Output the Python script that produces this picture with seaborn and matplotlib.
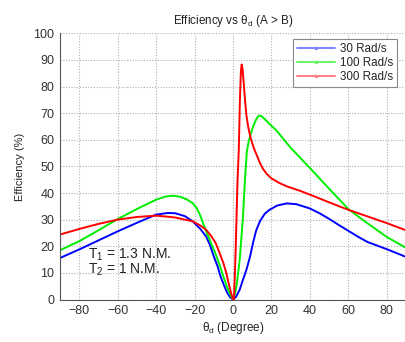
import numpy as np
import pandas as pd
import matplotlib
matplotlib.use("Agg")
import matplotlib.pyplot as plt
from matplotlib.lines import Line2D
import seaborn as sns

# ---- data ----
labels = ["30 Rad/s", "100 Rad/s", "300 Rad/s"]

theta_30 = [-90, -80, -70, -60, -50, -40, -34, -30, -25, -21, -17, -14, -12, -10, -8, -6.5,
            -4.5, -3, -1.5, 0, 1.5, 3.5, 5, 7, 9, 10.4, 12, 14, 16.5, 19, 23, 28, 33, 40,
            45, 50, 55, 60, 65, 70, 80, 90]
eff_30 = [15.6, 18.8, 22.2, 25.6, 28.8, 31.9, 32.5, 32.4, 31.3, 29.4, 26.5, 23.7, 20.5, 16.2,
          12.4, 8.7, 5.0, 2.5, 0.8, 0.0, 0.9, 3.7, 7.0, 11.2, 16.5, 21.2, 25.8, 29.4, 32.2,
          33.7, 35.3, 36.1, 35.8, 34.2, 32.4, 30.3, 28.0, 25.8, 23.6, 21.6, 18.9, 16.0]

theta_100 = [-90, -80, -70, -60, -50, -40, -35, -31, -27, -24, -21, -19, -17, -15, -13, -11,
             -9, -7, -5, -3, -1, 0, 1, 2, 3.5, 5.2, 6.3, 7.2, 8.2, 9.4, 10.6, 11.8, 12.8,
             13.6, 15, 17, 19.5, 22.6, 30, 40, 50, 60, 70, 80, 90]
eff_100 = [18.5, 21.9, 26.0, 30.2, 34.0, 37.5, 38.7, 39.0, 38.5, 37.6, 36.2, 34.5, 31.5, 27.5,
           24.0, 20.5, 17.0, 13.0, 8.7, 4.5, 1.2, 0.0, 2.0, 6.0, 15.0, 31.2, 46.0, 55.5, 59.5,
           62.6, 65.2, 67.3, 68.5, 69.1, 68.8, 67.4, 65.6, 63.5, 57.0, 49.4, 41.6, 34.0,
           28.6, 23.5, 19.4]

theta_300 = [-90, -80, -70, -60, -50, -40, -34, -30, -25, -21, -17, -14, -11.5, -9, -7, -5,
             -3.5, -2.3, -1, 0, 0.5, 1.4, 2.3, 3, 3.6, 4.1, 4.5, 5.0, 5.6, 6.3, 7, 8.0, 9.0,
             10.2, 11.3, 12.5, 14, 15.5, 17.4, 20, 24, 28, 35, 40, 50, 60, 70, 80, 90]
eff_300 = [24.4, 26.5, 28.4, 30.0, 31.0, 31.5, 31.1, 30.8, 30.0, 29.4, 27.8, 26.2, 24.0, 21.2,
           17.5, 13.7, 10.0, 6.2, 2.5, 0.0, 0.0, 18.7, 43.7, 56.0, 75.0, 85.5, 88.3, 86.5,
           81.0, 74.5, 69.0, 64.5, 61.2, 58.3, 56.0, 54.0, 51.3, 49.2, 47.3, 45.5, 43.8,
           42.5, 40.8, 39.4, 36.5, 33.7, 31.2, 28.7, 26.0]

x_ticks = [-80, -60, -40, -20, 0, 20, 40, 60, 80]
y_ticks = [0, 10, 20, 30, 40, 50, 60, 70, 80, 90, 100]

colors = ["#0000ff", "#00ee00", "#ff0000"]
legend_colors = ["#8080ff", "#66f566", "#ff8080"]

df = pd.concat([
    pd.DataFrame({"theta": theta_30, "eff": eff_30, "speed": labels[0]}),
    pd.DataFrame({"theta": theta_100, "eff": eff_100, "speed": labels[1]}),
    pd.DataFrame({"theta": theta_300, "eff": eff_300, "speed": labels[2]}),
], ignore_index=True)

sns.set_style("white")
plt.rcParams["font.family"] = ["Liberation Sans", "DejaVu Sans"]
plt.rcParams["mathtext.fontset"] = "custom"
plt.rcParams["mathtext.rm"] = "Liberation Sans"
plt.rcParams["mathtext.it"] = "Liberation Sans"

fig = plt.figure(figsize=(4.06, 3.42), dpi=100)
ax = fig.add_axes([60 / 406, 1 - 299.5 / 342, 346 / 406, (299.5 - 33.3) / 342])

sns.lineplot(data=df, x="theta", y="eff", hue="speed", palette=colors,
             hue_order=labels, linewidth=1.4, legend=False, ax=ax, sort=False,
             estimator=None)

ax.set_xlim(-90, 90)
ax.set_ylim(0, 100)
ax.set_xticks(x_ticks)
ax.set_yticks(y_ticks)
ax.tick_params(axis="both", direction="in", length=3, labelsize=9,
               colors="#333333", labelcolor="#333333", pad=4)
ax.set_axisbelow(True)
ax.grid(True, which="major", linestyle=(0, (1, 1.5)), color="#b0b0b0", linewidth=0.8)
for s in ["top", "right"]:
    ax.spines[s].set_visible(False)
for s in ["left", "bottom"]:
    ax.spines[s].set_color("#555555")
    ax.spines[s].set_linewidth(0.8)

ax.set_title(r"Efficiency vs $\theta_d$ (A > B)", fontsize=8.4, color="#222222", pad=7)
ax.set_xlabel(r"$\theta_d$ (Degree)", fontsize=8.5, color="#222222", labelpad=2)
ax.set_ylabel("Efficiency (%)", fontsize=8, color="#222222", labelpad=6)

ax.text(-75.5, 15.5, r"T$_1$ = 1.3 N.M.", fontsize=10, color="#222222")
ax.text(-75.5, 9.8, r"T$_2$ = 1 N.M.", fontsize=10, color="#222222")

handles = [Line2D([0], [0], color=c, lw=1.4, marker=".", markersize=3) for c in legend_colors]
leg = ax.legend(handles, labels, loc="upper right", bbox_to_anchor=(0.975, 0.98),
                fontsize=8.4, frameon=True, fancybox=False, framealpha=1,
                edgecolor="#888888", handlelength=3.3, borderpad=0.35,
                labelspacing=0.2, handletextpad=0.4, borderaxespad=0)
leg.get_frame().set_linewidth(0.8)

fig.savefig("out.png", dpi=100)
